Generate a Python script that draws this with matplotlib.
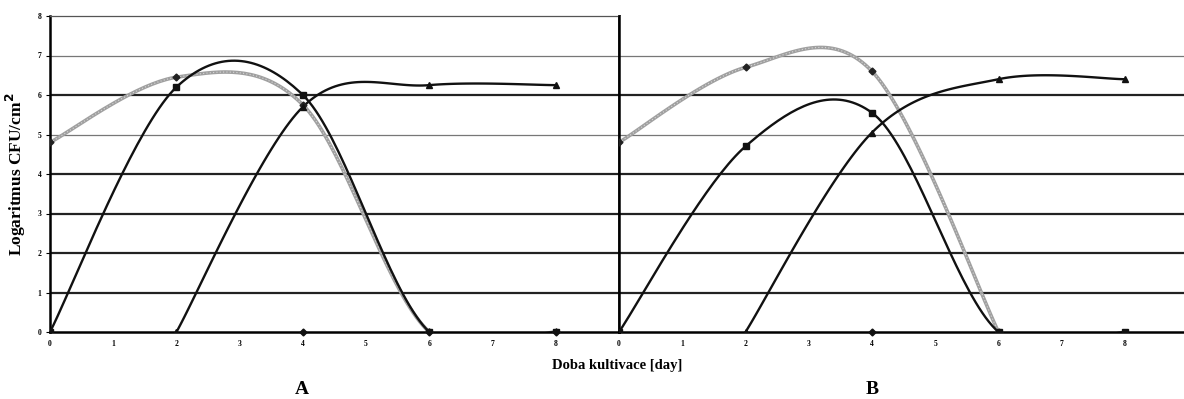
import matplotlib.pyplot as plt
import numpy as np

days = [0, 2, 4, 6, 8]
tri_days = [2, 4, 6, 8]
gray_days_b = [0, 2, 4, 6]
zero_days_a = [4, 6, 8]
zero_days_b = [4]

# panel A
a_square = [0.0, 6.2, 6.0, 0.0, 0.0]
a_gray = [4.8, 6.45, 5.75, 0.0, 0.0]
a_tri = [0.0, 5.7, 6.25, 6.25]
a_zero = [0.0, 0.0, 0.0]

# panel B
b_square = [0.0, 4.7, 5.55, 0.0, 0.0]
b_gray = [4.8, 6.7, 6.6, 0.0]
b_tri = [0.0, 5.05, 6.4, 6.4]
b_zero = [0.0]

x_ticks = [0, 1, 2, 3, 4, 5, 6, 7, 8]
y_ticks = [0, 1, 2, 3, 4, 5, 6, 7, 8]

SERIF = "Liberation Serif"


def smooth(x, y, n=40):
    # excel-like smoothed line: bezier segments, control points from neighbours / 6
    p = np.column_stack([x, y]).astype(float)
    ext = np.vstack([p[0], p, p[-1]])
    t = np.linspace(0, 1, n)[:, None]
    segs = []
    for i in range(len(p) - 1):
        p0, p1, p2, p3 = ext[i], ext[i + 1], ext[i + 2], ext[i + 3]
        c1 = p1 + (p2 - p0) / 6
        c2 = p2 - (p3 - p1) / 6
        segs.append((1 - t) ** 3 * p1 + 3 * (1 - t) ** 2 * t * c1
                    + 3 * (1 - t) * t ** 2 * c2 + t ** 3 * p2)
    s = np.vstack(segs)
    return s[:, 0], s[:, 1]


def draw_panel(ax, sq, gray_x, gray, tri, zero_x, zero, xmax):
    ax.set_xlim(0, xmax)
    ax.set_ylim(0, 8)
    for yv in [1, 2, 3, 4, 5, 6, 7]:
        thin = yv in (5, 7)
        ax.axhline(yv, color="#777777" if thin else "#222222",
                   lw=0.9 if thin else 1.6, zorder=1)

    gx, gy = smooth(gray_x, gray)
    ax.plot(gx, gy, color="#a0a0a0", lw=2.6, zorder=2)
    ax.plot(gx, gy, color="#d8d8d8", lw=0.8, ls=(0, (1, 2)), zorder=2)
    ax.plot(gray_x, gray, ls="none", marker="D", ms=3.5, color="#222222", zorder=4)

    sx, sy = smooth(days, sq)
    ax.plot(sx, sy, color="#111111", lw=1.7, zorder=3)
    ax.plot(days, sq, ls="none", marker="s", ms=4.2, color="#111111", zorder=4)

    tx, ty = smooth(tri_days, tri)
    ax.plot(tx, ty, color="#111111", lw=1.7, zorder=3)
    ax.plot(tri_days, tri, ls="none", marker="^", ms=4.5, color="#111111", zorder=4)

    ax.plot(zero_x, zero, ls="none", marker="D", ms=3.5, color="#111111",
            zorder=4, clip_on=False)

    ax.set_xticks(x_ticks)
    ax.set_xticklabels([str(v) for v in x_ticks], fontsize=5.5,
                       fontweight="bold", family=SERIF)
    ax.tick_params(axis="x", length=0, pad=6)
    ax.spines["bottom"].set_linewidth(1.8)
    ax.spines["left"].set_linewidth(1.8)
    ax.spines["bottom"].set_zorder(2)


fig = plt.figure(figsize=(11.84, 3.99), dpi=100)
ax_a = fig.add_axes([50 / 1184, 67 / 399, 569 / 1184, 316 / 399])
ax_b = fig.add_axes([619 / 1184, 67 / 399, 565 / 1184, 316 / 399])

draw_panel(ax_a, a_square, days, a_gray, a_tri, zero_days_a, a_zero, 9)
draw_panel(ax_b, b_square, gray_days_b, b_gray, b_tri, zero_days_b, b_zero, 565 / 63.25)

ax_a.spines["top"].set_linewidth(0.9)
ax_a.spines["top"].set_color("#555555")
ax_a.spines["right"].set_linewidth(1.8)
ax_a.set_yticks(y_ticks)
ax_a.set_yticklabels([str(v) for v in y_ticks], fontsize=5.5,
                     fontweight="bold", family=SERIF)
ax_a.tick_params(axis="y", length=3, width=0.8, pad=3)
ax_a.set_ylabel("Logaritmus CFU/cm$^{\\mathbf{2}}$", fontsize=12.5,
                fontweight="bold", family=SERIF, labelpad=7)

ax_b.spines["top"].set_visible(False)
ax_b.spines["right"].set_visible(False)
ax_b.set_yticks(y_ticks)
ax_b.set_yticklabels([])
ax_b.tick_params(axis="y", length=0)

fig.text(617 / 1184, 1 - 365 / 399, "Doba kultivace [day]", ha="center",
         va="center", fontsize=10.5, fontweight="bold", family=SERIF)
fig.text(302 / 1184, 1 - 390 / 399, "A", ha="center", va="center",
         fontsize=14, fontweight="bold", family=SERIF)
fig.text(872 / 1184, 1 - 390 / 399, "B", ha="center", va="center",
         fontsize=14, fontweight="bold", family=SERIF)

fig.savefig("out.png", dpi=100)
